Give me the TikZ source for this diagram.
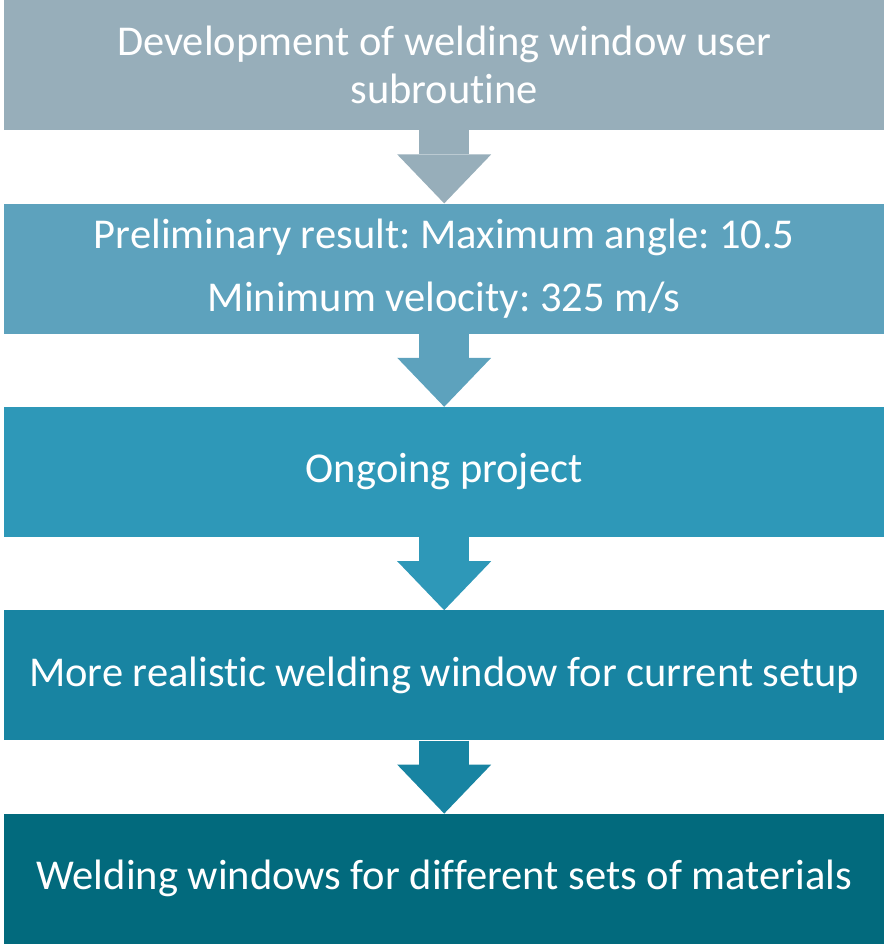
\documentclass[tikz,border=0pt]{standalone}
\usepackage{fontspec}
\setmainfont{Carlito}[Ligatures={NoCommon}]
\usepackage{xcolor}
\usepackage{tikz}
\usetikzlibrary{
    positioning,
    arrows.meta
}

\definecolor{stepA}{HTML}{97AEBA}
\definecolor{stepB}{HTML}{5DA2BD}
\definecolor{stepC}{HTML}{2E98B8}
\definecolor{stepD}{HTML}{1884A2}
\definecolor{stepE}{HTML}{026A7D}

\begin{document}
\frenchspacing
\begin{tikzpicture}[
    node distance=73pt,
    every node/.style={font=\fontsize{42.5}{48}\selectfont},
    stagebox/.style={rectangle, text=white, align=center, inner sep=0pt, minimum width=880pt, minimum height=130pt},
    flow/.style={-{Triangle[width=94pt, length=49pt, line width'=0pt]}, line width=50pt}
]

\useasboundingbox (0,0) rectangle (884pt,-947pt);

\node[stagebox, fill=stepA, below right=0pt and 4pt of {(0,0)}] (subroutine) {Development of welding window user\\subroutine};
\node[stagebox, fill=stepB, below=of subroutine] (prelim) {Preliminary result: Maximum angle: 10.5\\[15pt]Minimum velocity: 325 m/s};
\node[stagebox, fill=stepC, below=of prelim] (ongoing) {Ongoing project};
\node[stagebox, fill=stepD, below=of ongoing] (realistic) {More realistic welding window for current setup};
\node[stagebox, fill=stepE, below=of realistic] (materials) {Welding windows for different sets of materials};

\draw[flow, stepA] (subroutine) -- (prelim);
\draw[flow, stepB] (prelim) -- (ongoing);
\draw[flow, stepC] (ongoing) -- (realistic);
\draw[flow, stepD] (realistic) -- (materials);

\end{tikzpicture}
\end{document}
